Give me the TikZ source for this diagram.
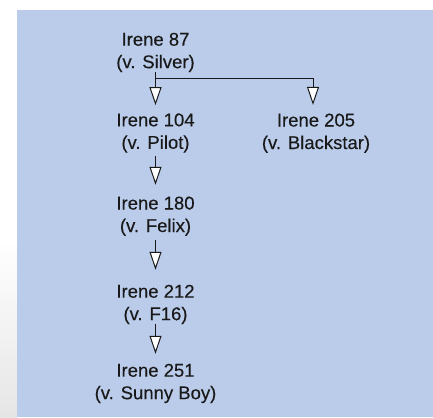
\documentclass[tikz,border=0pt]{standalone}
\usepackage{fontspec}
\setmainfont{Liberation Sans}[UprightFeatures={FakeBold=0.3}]
\usetikzlibrary{arrows.meta,calc}
\definecolor{bgblue}{RGB}{186,204,234}
\definecolor{ink}{RGB}{25,25,25}
\begin{document}
\begin{tikzpicture}[x=1pt,y=-1pt,
  lbl/.style={align=center,inner sep=0pt,anchor=base,text=ink,font=\fontsize{18.5}{22.5}\selectfont},
  arr/.style={draw=ink,line width=1pt,-{Triangle[length=18pt,width=12pt,fill=white,line width=1pt]}}]
\useasboundingbox (0,0) rectangle (433,417);
\fill[white] (0,0) rectangle (433,417);
\shade[top color=white,bottom color=black!10] (0,240) rectangle (17,417);
\fill[bgblue] (17,10) rectangle (433,417);
\node[lbl] (n87)  at (155.5,68.2)  {Irene 87\\(v. Silver)};
\node[lbl] (n104) at (155.5,148.8) {Irene 104\\(v. Pilot)};
\node[lbl] (n205) at (316,149)     {Irene 205\\(v. Blackstar)};
\node[lbl] (n180) at (155.5,232)   {Irene 180\\(v. Felix)};
\node[lbl] (n212) at (155.5,320.2) {Irene 212\\(v. F16)};
\node[lbl] (n251) at (155.5,399.2) {Irene 251\\(v. Sunny Boy)};
\coordinate (fork) at (155.5,78.3);
\draw[arr,shorten >=8pt] (n87) -- (n104);
\draw[arr,shorten >=8.5pt] (fork) -| ([xshift=-3pt]n205.north);
\draw[arr,shorten <=3pt,shorten >=11.6pt] (n104) -- (n180);
\draw[arr,shorten <=4.4pt,shorten >=14.8pt] (n180) -- (n212);
\draw[arr,shorten >=9.8pt] (n212) -- (n251);
\end{tikzpicture}
\end{document}
